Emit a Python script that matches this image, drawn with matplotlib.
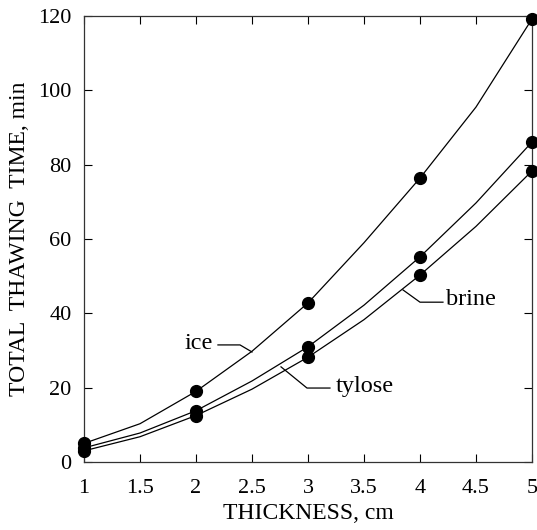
import matplotlib
matplotlib.use("Agg")
import matplotlib.pyplot as plt

plt.rcParams['font.family'] = ['Liberation Serif', 'DejaVu Serif']

# measured thawing times (min) vs slab thickness (cm)
thickness = [1, 2, 3, 4, 5]
ice_pts = [5, 19, 42.8, 76.4, 119.2]
tylose_pts = [3.8, 13.8, 31, 55.2, 86.1]
brine_pts = [3, 12.5, 28.2, 50.3, 78.3]

# fitted curves evaluated every 0.5 cm
curve_x = [1, 1.5, 2, 2.5, 3, 3.5, 4, 4.5, 5]
ice_fit = [5, 10.3, 19, 29.8, 42.8, 59, 76.4, 95.5, 119.2]
tylose_fit = [3.8, 7.8, 13.8, 21.8, 31, 42.2, 55.2, 69.7, 86.1]
brine_fit = [3, 6.8, 12.5, 19.6, 28.2, 38.3, 50.3, 63.4, 78.3]

x_ticks = [1, 1.5, 2, 2.5, 3, 3.5, 4, 4.5, 5]
x_ticklabels = ['1', '1.5', '2', '2.5', '3', '3.5', '4', '4.5', '5']
y_ticks = [0, 20, 40, 60, 80, 100, 120]

fig = plt.figure(figsize=(5.37, 5.30), dpi=100)
ax = fig.add_axes([84 / 537, 68 / 530, 448 / 537, 446 / 530])

for fx, fy in [(curve_x, ice_fit), (curve_x, tylose_fit), (curve_x, brine_fit)]:
    ax.plot(fx, fy, color='black', lw=0.9, zorder=2)
for py in [ice_pts, tylose_pts, brine_pts]:
    ax.plot(thickness, py, 'o', color='black', ms=8.5, zorder=3, clip_on=False)

ax.set_xlim(1, 5)
ax.set_ylim(0, 120)
ax.set_xticks(x_ticks)
ax.set_xticklabels(x_ticklabels)
ax.set_yticks(y_ticks)
ax.tick_params(direction='in', length=6, width=0.8, top=True, right=True,
               labelsize=16, colors='black')
ax.tick_params(axis='x', pad=12)
ax.tick_params(axis='y', pad=9)
for s in ax.spines.values():
    s.set_linewidth(0.9)
    s.set_color('#333333')

ax.set_xlabel('THICKNESS, cm', fontsize=17, labelpad=4)
ax.set_ylabel('TOTAL  THAWING  TIME, min', fontsize=17, labelpad=6)

# curve labels with leader lines
lw = 0.9
fs = 17.5
ax.plot([2.196, 2.393, 2.5], [31.5, 31.5, 29.6], color='black', lw=lw)
ax.text(2.15, 31.9, 'ice', fontsize=fs, ha='right', va='center')

ax.plot([2.759, 2.991, 3.196], [25.6, 19.9, 19.9], color='black', lw=lw)
ax.text(3.25, 20.4, 'tylose', fontsize=fs, ha='left', va='center')

ax.plot([3.848, 4.0, 4.205], [46.3, 43.0, 43.0], color='black', lw=lw)
ax.text(4.235, 43.6, 'brine', fontsize=fs, ha='left', va='center')

fig.savefig('out.png', dpi=100)
